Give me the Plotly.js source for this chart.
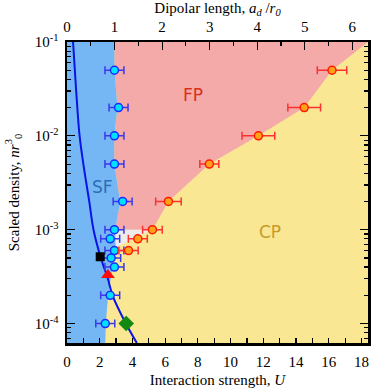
<!DOCTYPE html>
<html>
<head>
<meta charset="utf-8">
<script src="https://cdn.plot.ly/plotly-3.0.1.min.js"></script>
<style>html,body{margin:0;padding:0;background:#fff;}#chart{width:374px;height:391px;}</style>
</head>
<body>
<div id="chart"></div>
<script>
// ---- data ----
// SF -> FP/CP transition points (blue)
const sfDensity = [0.05, 0.02, 0.01, 0.005, 0.002, 0.001, 0.0008, 0.0006, 0.0005, 0.0004, 0.0002, 0.0001];
const sfU       = [2.9, 3.15, 2.9, 2.9, 3.4, 2.9, 2.64, 2.9, 2.7, 2.9, 2.64, 2.34];
const sfErr     = [0.58, 0.58, 0.58, 0.58, 0.58, 0.58, 0.58, 0.58, 0.58, 0.58, 0.58, 0.58];
// FP -> CP transition points (red/orange)
const cpDensity = [0.05, 0.02, 0.01, 0.005, 0.002, 0.001, 0.0008, 0.0006];
const cpU       = [16.2, 14.5, 11.7, 8.7, 6.2, 5.22, 4.33, 3.76];
const cpErr     = [0.9, 1.0, 1.0, 0.58, 0.78, 0.6, 0.58, 0.59];
// blue curve
const curveDensity = [0.1, 0.05, 0.02, 0.01, 0.005, 0.002, 0.001, 0.0005, 0.0003, 0.0002, 0.0001, 0.000062];
const curveU       = [0.37, 0.48, 0.63, 0.77, 1.0, 1.36, 1.62, 2.07, 2.5, 2.78, 3.6, 4.27];
// special markers
const squareU = [2.03], squareDensity = [0.000515];
const triU = [2.5], triDensity = [0.000329];
const diaU = [3.62], diaDensity = [0.0001];
// region boundaries
const sfBoundDensity = [0.1, 0.05, 0.02, 0.01, 0.005, 0.002, 0.001, 0.0006, 0.00035, 0.00022, 0.000105, 0.000062];
const sfBoundU       = [2.9, 2.9, 3.09, 2.89, 2.89, 3.25, 2.95, 2.97, 2.75, 2.54, 2.38, 2.34];
const fpBoundDensity = [0.1, 0.05, 0.02, 0.01, 0.005, 0.002, 0.001];
const fpBoundU       = [18.4, 16.2, 14.5, 11.7, 8.7, 6.2, 5.22];
const greyDensity = [0.001, 0.001, 0.00078, 0.00066, 0.00066];
const greyU       = [2.95, 5.22, 3.9, 3.1, 2.95];
// tick labels
const yTickVals = [0.0001, 0.001, 0.01, 0.1];
const yTickText = ['10<sup>-4</sup>', '10<sup>-3</sup>', '10<sup>-2</sup>', '10<sup>-1</sup>'];

const U_MAX = 18.4, AD_MAX = 6.33, LOG_MIN = -4.207, LOG_MAX = -1;
const nTop = Math.pow(10, LOG_MAX), nBot = Math.pow(10, LOG_MIN);

// polygons
const pinkX = [sfBoundU[0]].concat(fpBoundU, [sfBoundU[6]], sfBoundU.slice(0, 7).reverse());
const pinkY = [nTop].concat(fpBoundDensity, [0.001], sfBoundDensity.slice(0, 7).reverse());
const blueX = [0].concat(sfBoundU, [0]);
const blueY = [nTop].concat(sfBoundDensity, [nBot]);

const minorY = [];
for (let e = -5; e <= -2; e++) for (let d = 2; d <= 9; d++) {
  const v = d * Math.pow(10, e);
  if (v > nBot && v < nTop) minorY.push(v);
}

const fillBase = {type: 'scatter', mode: 'lines', fill: 'toself', line: {width: 0}, hoverinfo: 'skip', showlegend: false};
const traces = [
  Object.assign({}, fillBase, {x: pinkX, y: pinkY, fillcolor: '#f4aaa9'}),
  Object.assign({}, fillBase, {x: greyU, y: greyDensity, fillcolor: '#ececec'}),
  Object.assign({}, fillBase, {x: blueX, y: blueY, fillcolor: '#75b7f5'}),
  {type: 'scatter', mode: 'lines', x: curveU, y: curveDensity, line: {color: '#0a14e6', width: 2, shape: 'spline'}, showlegend: false},
  {type: 'scatter', mode: 'markers', x: sfU, y: sfDensity,
   error_x: {type: 'data', array: sfErr, visible: true, color: '#3a3ae8', thickness: 1.5, width: 4},
   marker: {size: 8, color: '#00e0ff', line: {color: '#1a2cff', width: 1.5}}, showlegend: false},
  {type: 'scatter', mode: 'markers', x: cpU, y: cpDensity,
   error_x: {type: 'data', array: cpErr, visible: true, color: '#ff3030', thickness: 1.5, width: 4},
   marker: {size: 8, color: '#ffa21a', line: {color: '#ff1a00', width: 1.5}}, showlegend: false},
  {type: 'scatter', mode: 'markers', x: squareU, y: squareDensity, marker: {symbol: 'square', size: 9, color: '#000'}, showlegend: false},
  {type: 'scatter', mode: 'markers', x: triU, y: triDensity, marker: {symbol: 'triangle-up', size: 12, color: '#ff0a0a'}, showlegend: false},
  {type: 'scatter', mode: 'markers', x: diaU, y: diaDensity, marker: {symbol: 'diamond', size: 12, color: '#128a12'}, showlegend: false},
  {type: 'scatter', mode: 'markers', x: [1], y: [0.001], xaxis: 'x2', marker: {opacity: 0}, hoverinfo: 'skip', showlegend: false}
];

const serif = 'Liberation Serif, Times New Roman, serif';
const layout = {
  width: 374, height: 391,
  margin: {l: 67, r: 6, t: 42, b: 48},
  paper_bgcolor: '#fff', plot_bgcolor: '#f9e794',
  font: {family: serif, size: 15, color: '#000'},
  xaxis: {
    range: [0, U_MAX], showgrid: false, zeroline: false,
    showline: true, linewidth: 2.5, linecolor: '#000',
    ticks: 'inside', ticklen: 5, tickwidth: 1.2, tickcolor: '#000', dtick: 2, tick0: 0,
    minor: {ticks: 'inside', ticklen: 5, tickwidth: 1.2, tickcolor: '#000', dtick: 1, showgrid: false},
    tickfont: {family: serif, size: 15}, ticklabelstandoff: 3,
    title: {text: 'Interaction strength, <i>U</i>', font: {family: serif, size: 15}, standoff: 6}
  },
  xaxis2: {
    overlaying: 'x', side: 'top', range: [0, AD_MAX], showgrid: false, zeroline: false,
    showline: true, linewidth: 2.5, linecolor: '#000',
    ticks: 'inside', ticklen: 8, tickwidth: 1.2, tickcolor: '#000', dtick: 1, tick0: 0,
    minor: {ticks: 'inside', ticklen: 4, tickwidth: 1.2, tickcolor: '#000', dtick: 0.5, showgrid: false},
    tickfont: {family: serif, size: 15}, ticklabelstandoff: 2,
    title: {text: 'Dipolar length, <i>a<sub>d</sub></i> /<i>r<sub>0</sub></i>', font: {family: serif, size: 15}, standoff: 6}
  },
  yaxis: {
    type: 'log', range: [LOG_MIN, LOG_MAX], showgrid: false, zeroline: false,
    showline: true, linewidth: 2.5, linecolor: '#000', mirror: 'ticks',
    ticks: 'inside', ticklen: 8, tickwidth: 1.2, tickcolor: '#000',
    tickmode: 'array', tickvals: yTickVals, ticktext: yTickText,
    minor: {ticks: 'inside', ticklen: 4, tickwidth: 1.2, tickcolor: '#000', tickmode: 'array', tickvals: minorY, showgrid: false},
    tickfont: {family: serif, size: 15}, ticklabelstandoff: 3,
    title: {text: 'Scaled density, <i>nr</i><sup>3</sup><sub>0</sub>', font: {family: serif, size: 15}, standoff: 12}
  },
  annotations: [
    {x: 7.72, y: Math.log10(0.0274), xref: 'x', yref: 'y', text: 'FP', showarrow: false, font: {family: 'DejaVu Sans', size: 17, color: '#d8301c'}},
    {x: 2.14, y: Math.log10(0.00288), xref: 'x', yref: 'y', text: 'SF', showarrow: false, font: {family: 'DejaVu Sans', size: 17, color: '#2a6fb8'}},
    {x: 12.4, y: Math.log10(0.00095), xref: 'x', yref: 'y', text: 'CP', showarrow: false, font: {family: 'DejaVu Sans', size: 17, color: '#c89a2a'}}
  ]
};
Plotly.newPlot('chart', traces, layout, {displayModeBar: false, staticPlot: true});
</script>
</body>
</html>
